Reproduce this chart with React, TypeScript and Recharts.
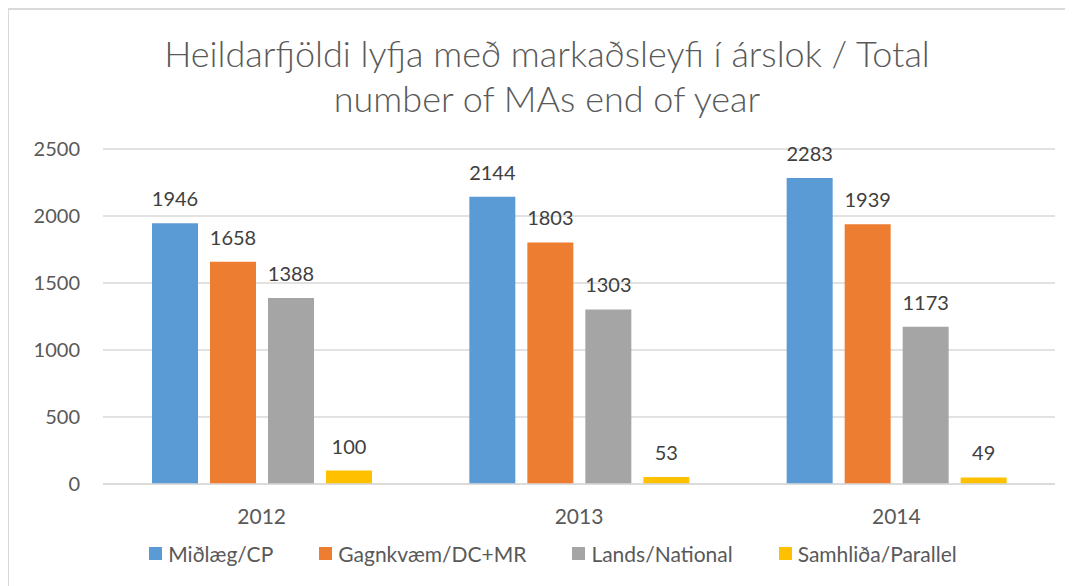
import React from "react";
import { BarChart, Bar, XAxis, YAxis, CartesianGrid, Legend, LabelList } from "recharts";

const years = ["2012", "2013", "2014"];
const midlaeg = [1946, 2144, 2283];
const gagnkvaem = [1658, 1803, 1939];
const lands = [1388, 1303, 1173];
const samhlida = [100, 53, 49];
const yTicks = [0, 500, 1000, 1500, 2000, 2500];

const series = [
  { key: "cp", name: "Miðlæg/CP", color: "#5b9bd5", values: midlaeg },
  { key: "dc", name: "Gagnkvæm/DC+MR", color: "#ed7d31", values: gagnkvaem },
  { key: "nat", name: "Lands/National", color: "#a5a5a5", values: lands },
  { key: "par", name: "Samhliða/Parallel", color: "#ffc000", values: samhlida },
];

const data = years.map((y, i) => {
  const row: any = { year: y };
  series.forEach((s) => (row[s.key] = s.values[i]));
  return row;
});

const FONT = "Lato, 'Open Sans', sans-serif";

const LegendContent = () => (
  <div style={{ display: "flex", justifyContent: "center", gap: 46, fontFamily: FONT, fontSize: 21, color: "#595959", marginLeft: 44 }}>
    {series.map((s) => (
      <div key={s.key} style={{ display: "flex", alignItems: "center" }}>
        <span style={{ display: "inline-block", width: 13, height: 13, background: s.color, marginRight: 6 }} />
        <span>{s.name}</span>
      </div>
    ))}
  </div>
);

export default function App() {
  return (
    <div style={{ position: "relative", width: 1065, height: 578, overflow: "hidden", marginLeft: -1 }}>
      <div
        style={{
          position: "absolute",
          left: 0,
          top: 0,
          width: 1080,
          height: 600,
          border: "2px solid #d9d9d9",
          boxSizing: "border-box",
          background: "#fff",
        }}
      />
      <div
        style={{
          position: "absolute",
          left: 0,
          top: 23,
          width: 1080,
          textAlign: "center",
          fontFamily: FONT,
          fontWeight: 300,
          fontSize: 36,
          lineHeight: "45px",
          color: "#595959",
        }}
      >
        Heildarfjöldi lyfja með markaðsleyfi í árslok / Total
        <br />
        number of MAs end of year
      </div>
      <div style={{ position: "absolute", left: 0, top: 0 }}>
        <BarChart
          width={1080}
          height={578}
          data={data}
          margin={{ top: 141, right: 32, left: 0, bottom: 20 }}
          barSize={46}
          barGap={12}
        >
          <CartesianGrid vertical={false} stroke="#d9d9d9" strokeWidth={1.5} />
          <XAxis
            dataKey="year"
            axisLine={{ stroke: "#d9d9d9", strokeWidth: 1.5 }}
            tickLine={false}
            tickSize={0}
            tickMargin={25}
            height={57}
            tick={{ fill: "#595959", fontSize: 21, fontFamily: FONT }}
          />
          <YAxis
            domain={[0, 2500]}
            ticks={yTicks}
            axisLine={false}
            tickLine={false}
            tickSize={0}
            tickMargin={23}
            width={96}
            tick={{ fill: "#595959", fontSize: 20, fontFamily: FONT }}
          />
          <Legend verticalAlign="bottom" height={25} content={<LegendContent />} />
          {series.map((s) => (
            <Bar key={s.key} dataKey={s.key} name={s.name} fill={s.color} isAnimationActive={false}>
              <LabelList
                dataKey={s.key}
                position="top"
                offset={17}
                fill="#404040"
                fontSize={20}
                fontFamily={FONT}
              />
            </Bar>
          ))}
        </BarChart>
      </div>
    </div>
  );
}
